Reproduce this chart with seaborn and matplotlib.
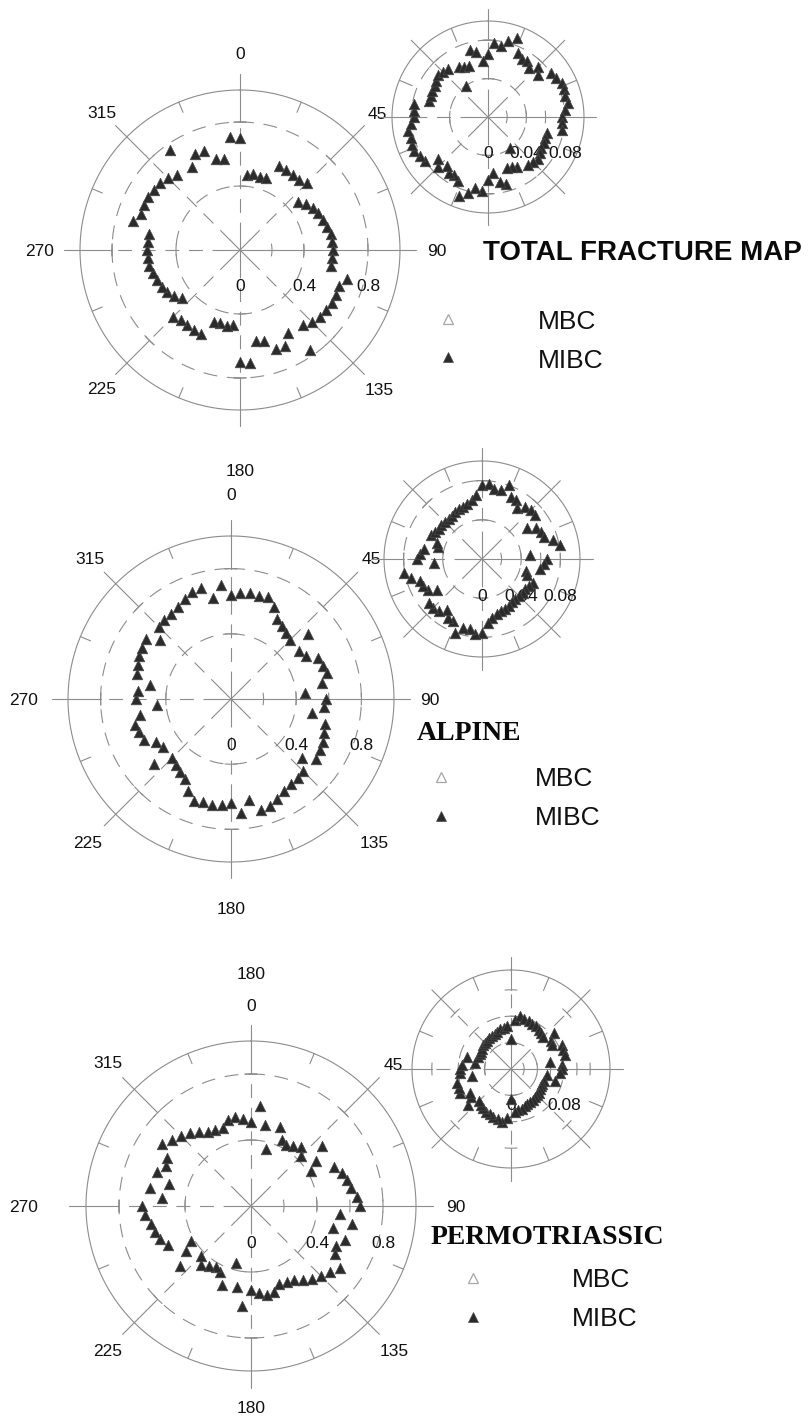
import numpy as np
import pandas as pd
import matplotlib
matplotlib.use("Agg")
import matplotlib.pyplot as plt
from matplotlib.lines import Line2D
from matplotlib.transforms import offset_copy
import seaborn as sns

sns.set_theme(style="white")
plt.rcParams["font.family"] = ["Liberation Sans", "DejaVu Sans"]
plt.rcParams["lines.scale_dashes"] = False

# Strike bins in degrees. Fracture strikes are axial, so each bin is drawn
# at both ends of its direction (theta and theta + 180).
strike_bins = list(range(0, 180, 5))

# Relative frequencies per strike bin (MIBC), main roses (scale 0-1)
total_main = [0.70, 0.47, 0.48, 0.475, 0.48, 0.58, 0.58, 0.575, 0.575, 0.59,
              0.47, 0.505, 0.525, 0.54, 0.555, 0.565, 0.575, 0.58, 0.58, 0.58,
              0.58, 0.69, 0.66, 0.66, 0.665, 0.655, 0.65, 0.64, 0.615, 0.76,
              0.60, 0.66, 0.66, 0.59, 0.575, 0.71]
alpine_main = [0.635, 0.655, 0.66, 0.655, 0.665, 0.62, 0.57, 0.545, 0.525, 0.512,
               0.62, 0.51, 0.53, 0.59, 0.60, 0.608, 0.566, 0.456, 0.585, 0.57,
               0.505, 0.598, 0.61, 0.62, 0.63, 0.637, 0.566, 0.629, 0.635, 0.64,
               0.654, 0.675, 0.70, 0.704, 0.629, 0.704]
permo_main = [0.51, 0.61, 0.50, 0.36, 0.51, 0.44, 0.43, 0.445, 0.47, 0.43,
              0.565, 0.48, 0.42, 0.555, 0.59, 0.60, 0.615, 0.645, 0.66, 0.54,
              0.62, 0.515, 0.605, 0.57, 0.585, 0.655, 0.625, 0.60, 0.575, 0.545,
              0.52, 0.51, 0.50, 0.54, 0.545, 0.53]

# Inset roses (small scale)
total_inset = [0.066, 0.077, 0.075, 0.082, 0.088, 0.074, 0.070, 0.071, 0.067, 0.073,
               0.068, 0.080, 0.082, 0.085, 0.084, 0.083, 0.085, 0.080, 0.077, 0.077,
               0.078, 0.064, 0.063, 0.064, 0.064, 0.066, 0.068, 0.066, 0.065, 0.040,
               0.060, 0.058, 0.057, 0.072, 0.069, 0.059]
alpine_inset = [0.076, 0.077, 0.073, 0.073, 0.080, 0.070, 0.069, 0.063, 0.069, 0.070,
                0.070, 0.056, 0.064, 0.066, 0.067, 0.0745, 0.081, 0.049, 0.066, 0.063,
                0.060, 0.046, 0.049, 0.057, 0.055, 0.054, 0.054, 0.053, 0.053, 0.054,
                0.055, 0.056, 0.056, 0.058, 0.061, 0.066]
permo_inset = [0.045, 0.075, 0.081, 0.079, 0.078, 0.076, 0.075, 0.073, 0.071, 0.068,
               0.086, 0.074, 0.072, 0.085, 0.084, 0.084, 0.060, 0.078, 0.077, 0.075,
               0.055, 0.069, 0.053, 0.052, 0.052, 0.054, 0.056, 0.056, 0.056, 0.057,
               0.058, 0.059, 0.060, 0.062, 0.063, 0.065]

titles = ["TOTAL FRACTURE MAP", "ALPINE", "PERMOTRIASSIC"]
series_labels = ["MBC", "MIBC"]
main_ticks = [0, 0.4, 0.8]
inset_ticks = [0, 0.04, 0.08]
permo_inset_ticks = [0, 0.08]
compass_labels = [0, 45, 90, 135, 180, 225, 270, 315]

FIG_W, FIG_H, DPI = 811, 1417, 100
fig = plt.figure(figsize=(FIG_W / DPI, FIG_H / DPI), dpi=DPI)
fig.patch.set_facecolor("white")

GRID = "#8c8c8c"
MARK_FACE = "#2b2b2b"
MARK_EDGE = "#4a4a4a"
LW = 0.8


def polar_axes(cx, cy, R):
    ax = fig.add_axes([(cx - R) / FIG_W, (FIG_H - cy - R) / FIG_H,
                       2 * R / FIG_W, 2 * R / FIG_H], projection="polar")
    ax.set_theta_zero_location("N")
    ax.set_theta_direction(-1)
    ax.set_autoscale_on(False)
    ax.set_axis_off()
    return ax


def radial(ax, deg, r0, r1, dashed=False):
    ls = (0, (10, 7)) if dashed else "-"
    ax.plot([np.deg2rad(deg)] * 2, [r0, r1], color=GRID, lw=LW, ls=ls,
            clip_on=False, zorder=1)


def crossbar(ax, deg, r, half_px, px_per_unit):
    d = half_px / (r * px_per_unit)
    th = np.linspace(np.deg2rad(deg) - d, np.deg2rad(deg) + d, 6)
    ax.plot(th, [r] * len(th), color=GRID, lw=LW, clip_on=False, zorder=1)


def draw_frame(ax, R, rmax, rings, solid_from, axis_ticks, tick_labels,
               label_drop_px, big):
    ppu = R / rmax
    circ = np.linspace(0, 2 * np.pi, 721)
    ax.plot(circ, [rmax] * len(circ), color=GRID, lw=LW, clip_on=False, zorder=1)
    for rr in rings:
        ax.plot(circ, [rr] * len(circ), color=GRID, lw=LW, ls=(0, (10, 7)),
                clip_on=False, zorder=1)
    star = 14 / ppu
    ext = rmax * (1.1 if big else 1.13)
    for deg in range(0, 360, 45):
        radial(ax, deg, 0, star)
        if deg == 90:
            radial(ax, deg, star, ext)
        else:
            radial(ax, deg, star, solid_from, dashed=True)
            radial(ax, deg, solid_from, ext)
            crossbar(ax, deg, solid_from, 6, ppu)
        if deg % 90 == 0 and deg != 90:
            for rr in rings:
                crossbar(ax, deg, rr, 6, ppu)
    for t in axis_ticks:
        crossbar(ax, 90, t, 6, ppu)
    tick_len = 11 if big else 14
    for deg in np.arange(22.5, 360, 45):
        radial(ax, deg, rmax - tick_len / ppu, rmax)
    trans = offset_copy(ax.transData, fig=fig, x=0, y=-label_drop_px * 72 / DPI,
                        units="points")
    for val in tick_labels:
        ax.text(np.deg2rad(90), val, f"{val:g}", transform=trans, ha="center",
                va="center_baseline", fontsize=12.5, color="#111111", zorder=2,
                clip_on=False)
    ax.set_rlim(0, rmax)


def draw_points(ax, values):
    theta = np.deg2rad(np.r_[strike_bins, np.array(strike_bins) + 180])
    df = pd.DataFrame({"theta": theta, "r": np.r_[values, values]})
    sns.scatterplot(data=df, x="theta", y="r", ax=ax, marker="^", s=58,
                    color=MARK_FACE, edgecolor=MARK_EDGE, linewidth=0.5,
                    legend=False, zorder=4, clip_on=False)
    ax.set_axis_off()


def compass(ax, rmax, factors):
    for deg in compass_labels:
        ax.text(np.deg2rad(deg), rmax * factors[deg], str(deg), ha="center",
                va="center_baseline", fontsize=12.5, color="#111111", clip_on=False)


def legend_block(mx, y1, y2, tx, b1, b2):
    fig.add_artist(Line2D([mx / FIG_W], [1 - y1 / FIG_H], transform=fig.transFigure,
                          marker="^", ms=6.5, mfc="white", mec="#a6a6a6", mew=0.9,
                          ls="none"))
    fig.add_artist(Line2D([mx / FIG_W], [1 - y2 / FIG_H], transform=fig.transFigure,
                          marker="^", ms=6.5, mfc=MARK_FACE, mec=MARK_EDGE, mew=0.5,
                          ls="none"))
    fig.text(tx / FIG_W, 1 - b1 / FIG_H, series_labels[0], fontsize=19,
             va="baseline", ha="left", color="#111111")
    fig.text(tx / FIG_W, 1 - b2 / FIG_H, series_labels[1], fontsize=19,
             va="baseline", ha="left", color="#111111")


# ---- Total fracture map ----
ax = polar_axes(240, 250, 160)
draw_frame(ax, 160, 1.0, [0.4, 0.8], 0.8, [0.2, 0.4, 0.6, 0.8], main_ticks, 35, True)
draw_points(ax, total_main)
compass(ax, 1.0, {0: 1.23, 45: 1.21, 90: 1.23, 135: 1.23, 180: 1.375,
                  225: 1.22, 270: 1.25, 315: 1.22})

ax = polar_axes(488, 117, 96)
draw_frame(ax, 96, 0.1, [0.04, 0.08], 0.08, [0.02, 0.04, 0.06, 0.08], inset_ticks, 35, False)
draw_points(ax, total_inset)

fig.text(483 / FIG_W, 1 - 260 / FIG_H, titles[0], fontsize=20, fontweight="bold",
         ha="left", va="baseline", color="#0a0a0a")
legend_block(448, 319, 357, 538, 329, 368)

# ---- Alpine ----
ax = polar_axes(231, 699, 163)
draw_frame(ax, 163, 1.0, [0.4, 0.8], 0.8, [0.2, 0.4, 0.6, 0.8], main_ticks, 45, True)
draw_points(ax, alpine_main)
compass(ax, 1.0, {0: 1.26, 45: 1.22, 90: 1.22, 135: 1.24, 180: 1.28,
                  225: 1.24, 270: 1.27, 315: 1.22})

ax = polar_axes(482, 559, 98)
draw_frame(ax, 98, 0.1, [0.04, 0.08], 0.08, [0.02, 0.04, 0.06, 0.08], inset_ticks, 36, False)
draw_points(ax, alpine_inset)

fig.text(417 / FIG_W, 1 - 740 / FIG_H, titles[1], fontsize=20, fontweight="bold",
         family=["Liberation Serif", "DejaVu Serif"], ha="left", va="baseline",
         color="#0a0a0a")
legend_block(441, 777, 816, 535, 786, 825)

# ---- Permotriassic ----
ax = polar_axes(251, 1206, 165)
draw_frame(ax, 165, 1.0, [0.4, 0.8], 0.8, [0.2, 0.4, 0.6, 0.8], main_ticks, 36, True)
draw_points(ax, permo_main)
compass(ax, 1.0, {0: 1.22, 45: 1.22, 90: 1.24, 135: 1.23, 180: 1.22,
                  225: 1.23, 270: 1.38, 315: 1.23})
ax.text(0, 1.41, "180", ha="center", va="center_baseline", fontsize=12.5,
        color="#111111", clip_on=False)

ax = polar_axes(511, 1069, 99)
draw_frame(ax, 99, 0.15, [0.04, 0.08], 0.12, [0.02, 0.04, 0.06, 0.08, 0.10, 0.12],
           permo_inset_ticks, 35, False)
draw_points(ax, permo_inset)

fig.text(431 / FIG_W, 1 - 1244 / FIG_H, titles[2], fontsize=20, fontweight="bold",
         family=["Liberation Serif", "DejaVu Serif"], ha="left", va="baseline",
         color="#0a0a0a")
legend_block(473, 1278, 1317, 572, 1287, 1326)

fig.savefig("out.png", dpi=DPI, facecolor="white")
